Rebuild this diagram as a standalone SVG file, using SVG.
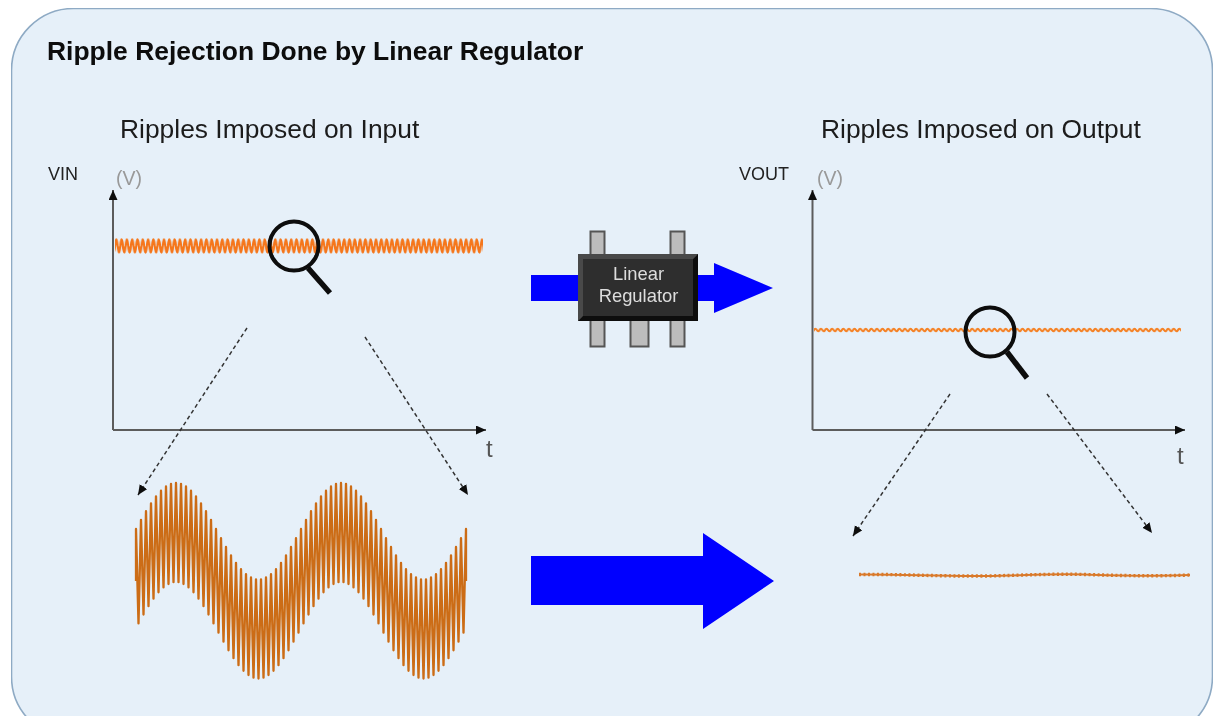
<svg xmlns="http://www.w3.org/2000/svg" width="1214" height="716" viewBox="0 0 1214 716">
<style>
text{font-family:"Liberation Sans",Arial,sans-serif}
.title{font-size:26.45px;font-weight:700;fill:#0a0a0a}
.head{font-size:26.4px;fill:#1a1a1a}
.lab{font-size:18px;fill:#222}
.unit{font-size:19.5px;fill:#999}
.tt{font-size:24px;fill:#555}
.chip{font-size:18.4px;fill:#ddd;text-anchor:middle}
.axis{fill:none;stroke:#5c5c5c;stroke-width:2;marker-end:url(#tip)}
.dash{fill:none;stroke:#333;stroke-width:1.5;stroke-dasharray:4 3;marker-end:url(#tip)}
.glass{fill:none;stroke:#0a0a0a;stroke-width:4}
.handle{stroke:#0a0a0a;stroke-width:5.5}
.pin{fill:#bdbdbd;stroke:#555;stroke-width:2}
.flow{fill:#0000ff}
.wave{fill:none;stroke:#cc6c14;stroke-width:2.3;stroke-linejoin:round}
</style>
<defs>
<filter id="soft" x="0" y="0" width="100%" height="100%" filterUnits="objectBoundingBox"><feGaussianBlur stdDeviation="0.55"/></filter>
<marker id="tip" markerUnits="userSpaceOnUse" markerWidth="11" markerHeight="10" refX="10" refY="4.5" orient="auto"><path d="M0,0L10,4.5L0,9z" fill="#111"/></marker>
<pattern id="rippleIn" patternUnits="userSpaceOnUse" x="115" y="237" width="5.3" height="18"><path d="M-5.3,9q1.325,-13 2.65,0t2.65,0t2.65,0t2.65,0t2.65,0t2.65,0" fill="none" stroke="#f5761a" stroke-width="2.3"/></pattern>
<pattern id="rippleOut" patternUnits="userSpaceOnUse" x="814" y="325" width="5.6" height="10"><path d="M-5.6,5q1.4,-2.6 2.8,0t2.8,0t2.8,0t2.8,0t2.8,0t2.8,0" fill="none" stroke="#f58124" stroke-width="2"/></pattern>
</defs>
<rect width="1214" height="716" fill="#fff"/>
<g filter="url(#soft)">
<rect id="panel" x="11.5" y="8.5" width="1201" height="730" rx="62" ry="62" fill="#e6f0f9" stroke="#8eaac4" stroke-width="1.6"/>
<text class="title" x="47" y="60">Ripple Rejection Done by Linear Regulator</text>
<g id="input-plot">
<text class="head" x="120" y="138">Ripples Imposed on Input</text>
<text class="lab" x="48" y="180">VIN</text>
<text class="unit" x="116" y="185">(V)</text>
<text class="tt" x="486" y="457">t</text>
<rect x="115" y="237" width="368" height="18" fill="url(#rippleIn)"/>
</g>
<g id="output-plot">
<text class="head" x="821" y="138">Ripples Imposed on Output</text>
<text class="lab" x="739" y="180">VOUT</text>
<text class="unit" x="817" y="185">(V)</text>
<text class="tt" x="1177" y="464">t</text>
<rect x="814" y="325" width="367" height="10" fill="url(#rippleOut)"/>
</g>
<g id="connectors">
<path class="axis" d="M113,430V190"/>
<path class="axis" d="M113,430H486"/>
<path class="axis" d="M812.5,430V190"/>
<path class="axis" d="M812.5,430H1185"/>
<path class="dash" d="M247,328L138,495"/>
<path class="dash" d="M365,337L468,495"/>
<path class="dash" d="M950,394L853,536"/>
<path class="dash" d="M1047,394L1152,533"/>
</g>
<g id="magnifier-input">
<circle class="glass" cx="294" cy="246" r="24.5"/>
<line class="handle" x1="308" y1="268" x2="330" y2="293"/>
</g>
<g id="magnifier-output">
<circle class="glass" cx="990" cy="332" r="24.5"/>
<line class="handle" x1="1007" y1="352" x2="1027" y2="378"/>
</g>
<path id="flow-top" class="flow" d="M531,275H714V263L773,288L714,313V301H531z"/>
<path id="flow-bottom" class="flow" d="M531,556H703V533L774,581L703,629V605H531z"/>
<g id="linear-regulator">
<rect class="pin" x="590.5" y="231.5" width="14" height="24"/>
<rect class="pin" x="670.5" y="231.5" width="14" height="24"/>
<rect class="pin" x="590.5" y="319" width="14" height="27.5"/>
<rect class="pin" x="630.5" y="319" width="18" height="27.5"/>
<rect class="pin" x="670.5" y="319" width="14" height="27.5"/>
<rect x="578" y="254" width="120" height="67" fill="#111"/>
<path d="M578,254H698L693,259H583V316L578,321z" fill="#4a4a4a"/>
<rect x="583" y="259" width="110" height="57" fill="#2f2f2f"/>
<text class="chip" x="638.5" y="280">Linear</text>
<text class="chip" x="638.5" y="302">Regulator</text>
</g>
<polyline id="wave-input" class="wave" points="136,581 136,529 138.5,623.4 141,519.9 143.5,614.5 146,511.2 148.5,606.1 151,503.3 153.5,598.7 156,496.3 158.5,592.3 161,490.7 163.5,587.4 166,486.5 168.5,584 171,483.9 173.5,582.2 176,483 178.5,582.2 181,483.9 183.5,584 186,486.5 188.5,587.4 191,490.7 193.5,592.3 196,496.3 198.5,598.7 201,503.3 203.5,606.1 206,511.2 208.5,614.5 211,519.9 213.5,623.4 216,529 218.5,632.6 221,538.1 223.5,641.6 226,547 228.5,650.3 231,555.4 233.5,658.2 236,562.9 238.5,665.2 241,569.2 243.5,670.8 246,574.1 248.5,675 251,577.5 253.5,677.6 256,579.3 258.5,678.5 261,579.3 263.5,677.6 266,577.5 268.5,675 271,574.1 273.5,670.8 276,569.2 278.5,665.2 281,562.9 283.5,658.2 286,555.4 288.5,650.3 291,547 293.5,641.6 296,538.1 298.5,632.6 301,529 303.5,623.4 306,519.9 308.5,614.5 311,511.2 313.5,606.1 316,503.3 318.5,598.7 321,496.3 323.5,592.3 326,490.7 328.5,587.4 331,486.5 333.5,584 336,483.9 338.5,582.2 341,483 343.5,582.2 346,483.9 348.5,584 351,486.5 353.5,587.4 356,490.7 358.5,592.3 361,496.3 363.5,598.7 366,503.3 368.5,606.1 371,511.2 373.5,614.5 376,519.9 378.5,623.4 381,529 383.5,632.6 386,538.1 388.5,641.6 391,547 393.5,650.3 396,555.4 398.5,658.2 401,562.9 403.5,665.2 406,569.2 408.5,670.8 411,574.1 413.5,675 416,577.5 418.5,677.6 421,579.3 423.5,678.5 426,579.3 428.5,677.6 431,577.5 433.5,675 436,574.1 438.5,670.8 441,569.2 443.5,665.2 446,562.9 448.5,658.2 451,555.4 453.5,650.3 456,547 458.5,641.6 461,538.1 463.5,632.6 466,529 466,581"/>
<g id="wave-output">
<path d="M859,574.5C900,574 940,576.5 985,576C1020,575.5 1050,573.5 1085,574.5C1120,575.5 1150,576.5 1190,575" fill="none" stroke="#d9792a" stroke-width="2"/>
<path d="M859,574.5C900,574 940,576.5 985,576C1020,575.5 1050,573.5 1085,574.5C1120,575.5 1150,576.5 1190,575" fill="none" stroke="#d9792a" stroke-width="3.4" stroke-dasharray="2 2.5"/>
</g>
</g>
</svg>
